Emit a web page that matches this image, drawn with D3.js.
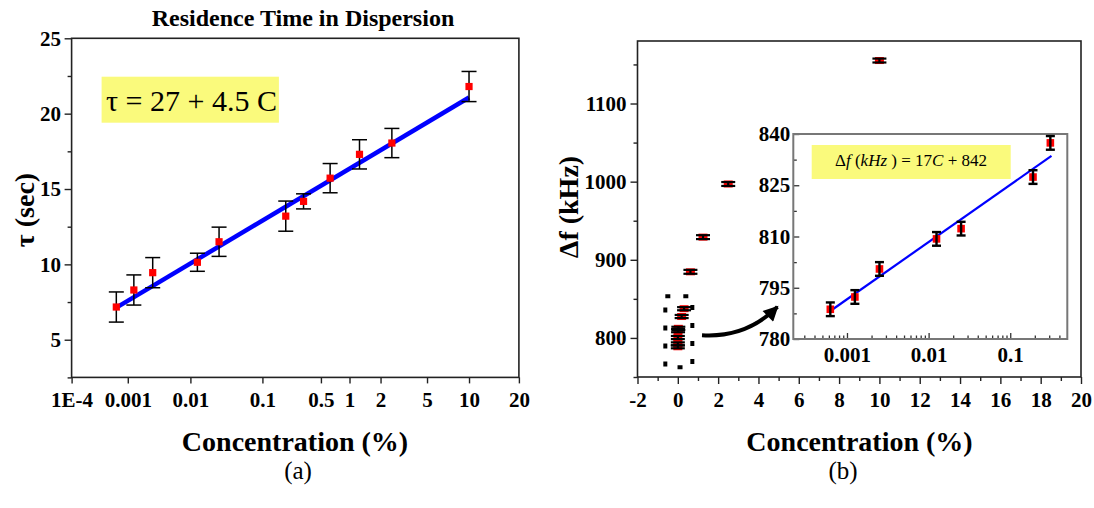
<!DOCTYPE html>
<html><head><meta charset="utf-8">
<script src="https://cdnjs.cloudflare.com/ajax/libs/d3/7.8.5/d3.min.js"></script>
<style>
body{margin:0;background:#fff;}
svg, svg text, svg tspan{font-family:"Liberation Serif","Times New Roman",serif !important;}
</style></head><body>
<svg id="c" width="1094" height="508"></svg>
<script>
// ---------- Panel (a) data ----------
const concA = [0.000625, 0.00125, 0.0025, 0.0125, 0.025, 0.19, 0.31, 0.625, 1.25, 2.5, 10];
const tauA = [7.17, 8.3, 9.45, 10.14, 11.5, 13.2, 14.18, 15.72, 17.3, 18.05, 21.8];
const tauErrA = [1.0, 1.0, 1.0, 0.6, 0.97, 1.0, 0.5, 0.97, 0.97, 0.97, 1.0];
const fitConcA = [0.000625, 10];
const fitTauA = [7.13, 21.07];
const xTickValsA = [1e-4, 0.001, 0.01, 0.1, 0.5, 1, 2, 5, 10, 20];
const xTickLabelsA = ["1E-4", "0.001", "0.01", "0.1", "0.5", "1", "2", "5", "10", "20"];
const yTicksA = [5, 10, 15, 20, 25];
const yMinorA = [2.5, 7.5, 12.5, 17.5, 22.5];

// ---------- Panel (b) data ----------
const concB = [0.000625, 0.00125, 0.0025, 0.0125, 0.025, 0.19, 0.31, 0.625, 1.25, 2.5, 10];
const dfB = [788.7, 792.3, 800.5, 809.3, 812.3, 827.4, 837.4, 884.6, 929, 997, 1155];
const dfErrB = [2, 2, 2, 2, 2, 2, 2, 2.5, 2.5, 2.5, 2.5];
const xTicksB = [-2, 0, 2, 4, 6, 8, 10, 12, 14, 16, 18, 20];
const xMinorB = [-1, 1, 3, 5, 7, 9, 11, 13, 15, 17, 19];
const yTicksB = [800, 900, 1000, 1100];
const yMinorB = [750, 850, 950, 1050, 1150];
// inset (first seven points)
const nInset = 7;
const fitConcInset = [0.000625, 0.32];
const fitDfInset = [788.2, 833.6];
const xTicksInset = [0.001, 0.01, 0.1];
const yTicksInset = [780, 795, 810, 825, 840];
const yMinorInset = [787.5, 802.5, 817.5, 832.5];

const FONT = '"Liberation Serif","Times New Roman",serif';
const svg = d3.select("#c").style("font-family", FONT);
const BOLD = "bold";
function styleTicks(ax) {
  ax.attr("font-family", null);
  ax.selectAll("text").attr("font-size", 21).attr("font-weight", BOLD).attr("fill", "#000")
    .style("font-family", FONT);
}
const txt = (g) => g.append("text").style("font-family", FONT).attr("fill", "#000");

// ================= Panel (a) =================
const A = {x0: 71.6, x1: 518.9, y0: 38.3, y1: 377.4};
// warped log axis of the original figure (tick positions as fraction of axis width)
const warpA = [0, 0.1256, 0.2656, 0.4266, 0.5574, 0.6213, 0.6907, 0.7946, 0.8885, 1];
const linA = d3.scaleLinear()
  .domain(xTickValsA.map(Math.log10))
  .range(warpA.map(f => A.x0 + f * (A.x1 - A.x0)));
const xA = c => linA(Math.log10(c));
const yA = d3.scaleLinear().domain([2.5, 25]).range([A.y1, A.y0]);

const gA = svg.append("g");
styleTicks(gA.append("g").attr("transform", `translate(${A.x0},0)`)
  .call(d3.axisLeft(yA).tickValues(yTicksA).tickFormat(d => String(d)).tickSize(7).tickPadding(3.5)));
gA.append("g").attr("transform", `translate(${A.x0},0)`)
  .call(d3.axisLeft(yA).tickValues(yMinorA).tickSize(4).tickFormat(""));
styleTicks(gA.append("g").attr("transform", `translate(0,${A.y1})`)
  .call(d3.axisBottom(linA).tickValues(xTickValsA.map(Math.log10))
    .tickFormat((d, i) => xTickLabelsA[i]).tickSize(6).tickPadding(8.4)));
gA.selectAll(".domain").remove();
gA.selectAll(".tick line").attr("stroke", "#222").attr("stroke-width", 1.4);
gA.append("rect").attr("x", A.x0).attr("y", A.y0).attr("width", A.x1 - A.x0).attr("height", A.y1 - A.y0)
  .attr("fill", "none").attr("stroke", "#222").attr("stroke-width", 1.6);

// equation box
gA.append("rect").attr("x", 101.6).attr("y", 76.7).attr("width", 177.3).attr("height", 46).attr("fill", "#fafa7c");
txt(gA).attr("x", 106).attr("y", 111).attr("font-size", 30).text("τ = 27 + 4.5 C");

// fit line
gA.append("path")
  .attr("d", d3.line()(fitConcA.map((c, i) => [xA(c), yA(fitTauA[i])])))
  .attr("stroke", "#0000ff").attr("stroke-width", 4.5).attr("fill", "none");

function errBars(g, xs, ys, es, xf, yf, cap, sw) {
  const e = g.append("g").attr("stroke", "#000").attr("stroke-width", sw);
  xs.forEach((c, i) => {
    const x = xf(c), yt = yf(ys[i] + es[i]), yb = yf(ys[i] - es[i]);
    e.append("line").attr("x1", x).attr("x2", x).attr("y1", yt).attr("y2", yb);
    e.append("line").attr("x1", x - cap).attr("x2", x + cap).attr("y1", yt).attr("y2", yt);
    e.append("line").attr("x1", x - cap).attr("x2", x + cap).attr("y1", yb).attr("y2", yb);
  });
}
errBars(gA, concA, tauA, tauErrA, xA, yA, 7.5, 1.5);
gA.append("g").selectAll("rect").data(concA).join("rect")
  .attr("x", d => xA(d) - 3.6).attr("y", (d, i) => yA(tauA[i]) - 3.6)
  .attr("width", 7.2).attr("height", 7.2).attr("fill", "#ff0000");

// titles
txt(gA).attr("x", 303).attr("y", 26).attr("text-anchor", "middle")
  .attr("font-size", 24).attr("font-weight", BOLD).text("Residence Time in Dispersion");
txt(gA).attr("transform", "translate(34,210) rotate(-90)").attr("text-anchor", "middle")
  .attr("font-size", 28).attr("font-weight", BOLD).text("τ (sec)");
txt(gA).attr("x", 295).attr("y", 451).attr("text-anchor", "middle")
  .attr("font-size", 28).attr("font-weight", BOLD).text("Concentration (%)");
txt(gA).attr("x", 298).attr("y", 479).attr("text-anchor", "middle")
  .attr("font-size", 25).text("(a)");

// ================= Panel (b) =================
const B = {x0: 637.5, x1: 1081, y0: 41, y1: 377};
const xB = d3.scaleLinear().domain([-2, 20]).range([B.x0, B.x1]);
const yB = d3.scaleLinear().domain([750, 1180]).range([B.y1, B.y0]);
const gB = svg.append("g");

styleTicks(gB.append("g").attr("transform", `translate(${B.x0},0)`)
  .call(d3.axisLeft(yB).tickValues(yTicksB).tickFormat(d => String(d)).tickSize(7).tickPadding(4)));
gB.append("g").attr("transform", `translate(${B.x0},0)`)
  .call(d3.axisLeft(yB).tickValues(yMinorB).tickSize(4).tickFormat(""));
styleTicks(gB.append("g").attr("transform", `translate(0,${B.y1})`)
  .call(d3.axisBottom(xB).tickValues(xTicksB).tickFormat(d => String(d)).tickSize(7).tickPadding(8)));
gB.append("g").attr("transform", `translate(0,${B.y1})`)
  .call(d3.axisBottom(xB).tickValues(xMinorB).tickSize(4).tickFormat(""));
gB.selectAll(".domain").remove();
gB.selectAll(".tick line").attr("stroke", "#222").attr("stroke-width", 1.4);
gB.append("rect").attr("x", B.x0).attr("y", B.y0).attr("width", B.x1 - B.x0).attr("height", B.y1 - B.y0)
  .attr("fill", "none").attr("stroke", "#222").attr("stroke-width", 1.6);

// main points
gB.append("g").selectAll("rect").data(concB).join("rect")
  .attr("x", d => xB(d) - 4.5).attr("y", (d, i) => yB(dfB[i]) - 3.5)
  .attr("width", 9).attr("height", 7).attr("fill", "#ff0000");
errBars(gB, concB, dfB, dfErrB, xB, yB, 7, 2.2);

// dashed selection box
gB.append("rect").attr("x", xB(-0.62)).attr("y", yB(853.5))
  .attr("width", xB(0.72) - xB(-0.62)).attr("height", yB(762.4) - yB(853.5))
  .attr("fill", "none").attr("stroke", "#000").attr("stroke-width", 4).attr("stroke-dasharray", "5,13");

// arrow
const defs = svg.append("defs");
defs.append("marker").attr("id", "ah").attr("viewBox", "0 0 10 10").attr("refX", 9).attr("refY", 5)
  .attr("markerUnits", "userSpaceOnUse").attr("markerWidth", 17).attr("markerHeight", 15)
  .attr("orient", "auto")
  .append("path").attr("d", "M0,0 L10,5 L0,10 Z").attr("fill", "#000");
const ap = d3.path();
ap.moveTo(xB(1.2), yB(803.5));
ap.quadraticCurveTo(xB(3.4), yB(800), xB(4.94), yB(839.8));
gB.append("path").attr("d", ap.toString()).attr("fill", "none").attr("stroke", "#000")
  .attr("stroke-width", 4).attr("marker-end", "url(#ah)");

// axis titles
txt(gB).attr("transform", "translate(578,207) rotate(-90)").attr("text-anchor", "middle")
  .attr("font-size", 28).attr("font-weight", BOLD).text("Δf (kHz)");
txt(gB).attr("x", 859.5).attr("y", 451).attr("text-anchor", "middle")
  .attr("font-size", 28).attr("font-weight", BOLD).text("Concentration (%)");
txt(gB).attr("x", 843).attr("y", 479).attr("text-anchor", "middle")
  .attr("font-size", 25).text("(b)");

// ================= Inset =================
const I = {x0: 793.3, x1: 1067.3, y0: 134, y1: 339};
const xI = d3.scaleLog().domain([2.2e-4, 0.5]).range([I.x0, I.x1]);
const yI = d3.scaleLinear().domain([780, 840]).range([I.y1, I.y0]);
const gI = svg.append("g");
gI.append("rect").attr("x", I.x0).attr("y", I.y0).attr("width", I.x1 - I.x0).attr("height", I.y1 - I.y0)
  .attr("fill", "#fff");
const minorI = [];
[1e-4, 1e-3, 1e-2, 1e-1].forEach(d => { for (let k = 2; k <= 9; k++) { const v = d * k; if (v > 2.2e-4 && v < 0.5) minorI.push(v); } });
styleTicks(gI.append("g").attr("transform", `translate(${I.x0},0)`)
  .call(d3.axisLeft(yI).tickValues(yTicksInset).tickFormat(d => String(d)).tickSize(-6).tickPadding(3)));
gI.append("g").attr("transform", `translate(${I.x0},0)`)
  .call(d3.axisLeft(yI).tickValues(yMinorInset).tickSize(-3.5).tickFormat(""));
styleTicks(gI.append("g").attr("transform", `translate(0,${I.y1})`)
  .call(d3.axisBottom(xI).tickValues(xTicksInset).tickFormat(d => String(d)).tickSize(-6).tickPadding(8)));
gI.append("g").attr("transform", `translate(0,${I.y1})`)
  .call(d3.axisBottom(xI).tickValues(minorI).tickSize(-3.5).tickFormat(""));
gI.selectAll(".domain").remove();
gI.selectAll(".tick line").attr("stroke", "#333").attr("stroke-width", 1.3);
gI.append("rect").attr("x", I.x0).attr("y", I.y0).attr("width", I.x1 - I.x0).attr("height", I.y1 - I.y0)
  .attr("fill", "none").attr("stroke", "#777").attr("stroke-width", 2);

// equation box
gI.append("rect").attr("x", 811.7).attr("y", 145).attr("width", 199).attr("height", 34).attr("fill", "#fafa7c");
const eq = txt(gI).attr("x", 835).attr("y", 166).attr("font-size", 17)
  .attr("textLength", 152).attr("lengthAdjust", "spacing");
eq.append("tspan").text("Δ");
eq.append("tspan").attr("font-style", "italic").text("f");
eq.append("tspan").text(" (");
eq.append("tspan").attr("font-style", "italic").text("kHz");
eq.append("tspan").text(" ) = 17");
eq.append("tspan").attr("font-style", "italic").text("C");
eq.append("tspan").text(" + 842");

// fit line
gI.append("path")
  .attr("d", d3.line()(fitConcInset.map((c, i) => [xI(c), yI(fitDfInset[i])])))
  .attr("stroke", "#0000ff").attr("stroke-width", 2.2).attr("fill", "none");
const cI = concB.slice(0, nInset), dI = dfB.slice(0, nInset), eI = dfErrB.slice(0, nInset);
gI.append("g").selectAll("rect").data(cI).join("rect")
  .attr("x", d => xI(d) - 3.8).attr("y", (d, i) => yI(dI[i]) - 3.8)
  .attr("width", 7.6).attr("height", 7.6).attr("fill", "#ff0000");
errBars(gI, cI, dI, eI, xI, yI, 4.5, 2.4);
</script>
</body></html>
